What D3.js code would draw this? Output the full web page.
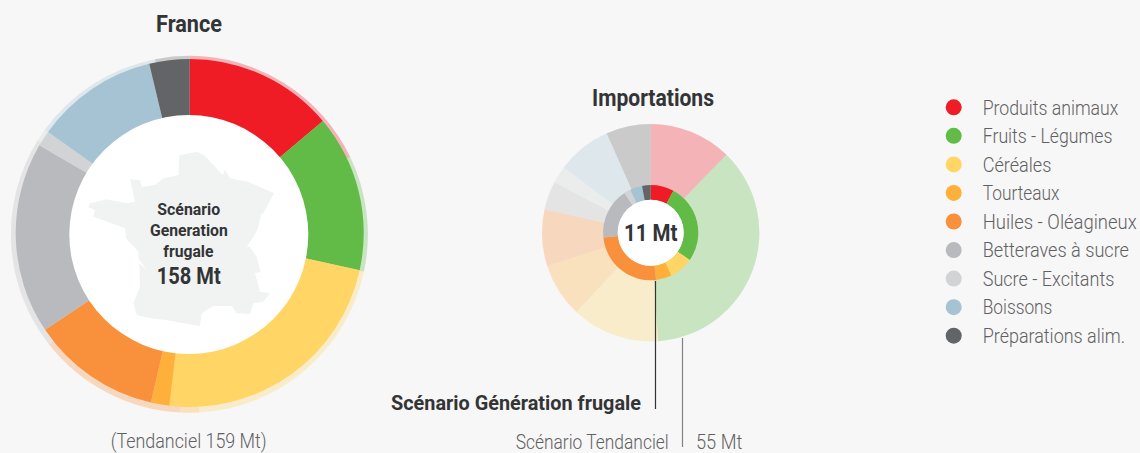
<!DOCTYPE html>
<html><head><meta charset="utf-8">
<script src="https://cdn.jsdelivr.net/npm/d3@7/dist/d3.min.js"></script>
<style>html,body{margin:0;padding:0;background:#f7f7f7;overflow:hidden}svg{display:block}text{font-family:"Roboto",sans-serif}</style>
</head><body><svg id="c" width="1140" height="453"></svg>
<script>
const categories=["Produits animaux","Fruits - Légumes","Céréales","Tourteaux","Huiles - Oléagineux","Betteraves à sucre","Sucre - Excitants","Boissons","Préparations alim."];
const colors=["#ef1c25","#61bb46","#ffd566","#ffb03b","#f9913c","#b9babe","#d1d3d4","#a5c3d2","#636466"];
const labelWidths=[135.7,129.7,68.7,76.7,154,146.3,131.7,69.7,142.3];
const franceFrugal=[21.9,23,37,2.7,19,28.1,2.3,18,5.9];
const franceTendanciel=[28.4,16.7,33,2.7,21.6,30.9,1.8,19,4.9];
const importFrugal=[0.87,2.95,0.89,0.59,2.77,1.91,0.24,0.46,0.32];
const importTendanciel=[6.75,20.15,7.2,4.43,4.6,2.34,1.42,4.46,3.65];
const francePoints=[[400,910],[410,945],[450,955],[500,960],[540,968],[600,978],[605,940],[640,918],[695,918],[710,940],[750,942],[760,910],[790,905],[810,880],[780,875],[765,820],[782,815],[770,770],[750,740],[740,742],[772,690],[785,640],[790,640],[822,580],[745,545],[690,535],[675,510],[668,525],[612,465],[590,455],[538,465],[535,525],[490,535],[465,555],[425,560],[420,540],[390,538],[405,605],[380,610],[320,598],[270,610],[265,622],[285,630],[280,650],[375,685],[378,715],[415,755],[415,775],[440,810],[418,790],[420,860]];

const svg=d3.select("#c");
const pie=d3.pie().sort(null).value(d=>d);
function ring(cx,cy,vals,r0,r1,op){
  const g=svg.append("g").attr("transform",`translate(${cx},${cy})`);
  g.selectAll("path").data(pie(vals)).join("path")
   .attr("d",d3.arc().innerRadius(r0).outerRadius(r1))
   .attr("fill",(d,i)=>colors[i]).attr("fill-opacity",op);
}
const IX=650.7,IY=232.7;
ring(189.4,234.3,franceTendanciel,110,178.5,0.3);
ring(189.7,233,franceFrugal,110,174,1);
svg.append("circle").attr("cx",188.8).attr("cy",234.5).attr("r",119.5).attr("fill","#fff");
svg.append("path").attr("fill","#f1f3f3")
  .attr("d",d3.line().x(d=>d[0]/3).y(d=>d[1]/3).curve(d3.curveLinearClosed)(francePoints));
ring(IX,IY,importTendanciel,33,108.7,0.3);
ring(IX,IY,importFrugal,33,47.6,1);
svg.append("circle").attr("cx",IX).attr("cy",IY).attr("r",33).attr("fill","#fff");
function t(x0,x1,y,s,size,weight,fill){
  return svg.append("text").attr("x",x0).attr("y",y).text(s)
    .attr("font-size",size).attr("font-weight",weight).attr("fill",fill)
    .attr("textLength",x1-x0).attr("lengthAdjust","spacingAndGlyphs");
}
const dark="#333436",grey="#5f6062";
t(156,222,31.5,"France",23.5,700,dark);
t(592,714,106,"Importations",24,700,dark);
t(157.3,220.2,215,"Scénario",17,700,dark);
t(150,227.8,236,"Generation",17,700,dark);
t(163.3,213.5,257.3,"frugale",17,700,dark);
t(156.7,220.7,283.5,"158 Mt",23,700,dark);
t(624,677.5,241,"11 Mt",24,700,dark);
t(110.7,266.7,448,"(Tendanciel 159 Mt)",20,300,grey);
t(391,641,410,"Scénario Génération frugale",20,700,dark);
t(515.7,668.7,448.5,"Scénario Tendanciel",20.5,300,grey);
t(696,742.3,448.5,"55 Mt",20.5,300,grey);
svg.append("line").attr("x1",655.5).attr("x2",655.5).attr("y1",281).attr("y2",409).attr("stroke","#333436").attr("stroke-width",1.2);
svg.append("line").attr("x1",682.5).attr("x2",682.5).attr("y1",338).attr("y2",447).attr("stroke","#808285").attr("stroke-width",1.2);
const ly=d3.scalePoint().domain(categories).range([107.3,335.7]);
const leg=svg.append("g");
leg.selectAll("circle").data(categories).join("circle").attr("cx",953.7).attr("cy",d=>ly(d)).attr("r",8).attr("fill",(d,i)=>colors[i]);
leg.selectAll("text").data(categories).join("text").attr("x",982.7).attr("y",d=>ly(d)+7.2).text(d=>d)
  .attr("font-size",20.5).attr("font-weight",300).attr("fill",grey)
  .attr("textLength",(d,i)=>labelWidths[i]).attr("lengthAdjust","spacingAndGlyphs");
</script></body></html>
